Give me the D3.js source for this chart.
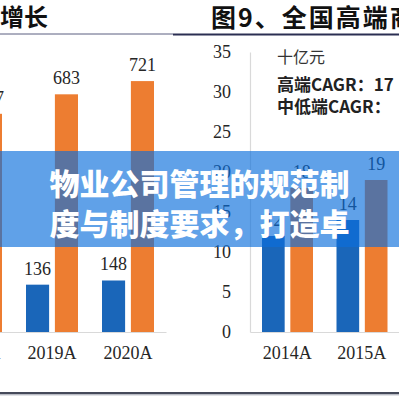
<!DOCTYPE html>
<html>
<head>
<meta charset="utf-8">
<script src="https://cdn.jsdelivr.net/npm/d3@7/dist/d3.min.js"></script>
<style>
  html, body { margin: 0; padding: 0; background: #fff; }
  svg { display: block; }
</style>
</head>
<body>
<svg id="chart" width="399" height="399"></svg>
<script>
// ---- data ----
const leftCategories = ["2018A", "2019A", "2020A"];
const leftBlue = [121, 136, 148];
const leftOrange = [627, 683, 721];

const rightCategories = ["2014A", "2015A"];
const rightBlue = [12, 14];
const rightOrange = [18, 19];
const rightTicks = [0, 5, 10, 15, 20, 25, 30, 35];

const leftTitle = "增长";
const rightTitle = "图9、全国高端商";
const rightUnit = "十亿元";
const rightNote1 = "高端CAGR：17";
const rightNote2 = "中低端CAGR：";
const bannerLines = ["物业公司管理的规范制", "度与制度要求，打造卓"];
const seriesKeys = ["blue", "orange"];

// ---- drawing ----
const svg = d3.select("#chart");
const COLORS = { blue: "#1a66b9", orange: "#ed7d31" };
const serif = "'Liberation Serif', 'Times New Roman', serif";
const cjk = "'Noto Sans CJK SC', sans-serif";

svg.append("rect").attr("width", 399).attr("height", 399).attr("fill", "#fff");

function drawPanel(cfg) {
  const g = svg.append("g");
  const x0 = d3.scaleBand().domain(cfg.categories).range(cfg.xRange);
  const x1 = d3.scaleBand().domain(seriesKeys).range(cfg.innerRange).paddingInner(0.2);
  const y = d3.scaleLinear().domain(cfg.yDomain).range(cfg.yRange);

  const rows = cfg.categories.map((c, i) => ({ cat: c, blue: cfg.blue[i], orange: cfg.orange[i] }));

  // baseline / x axis
  const xAxis = d3.axisBottom(x0).tickSize(0).tickPadding(14).tickSizeOuter(0);
  const xa = g.append("g").attr("transform", `translate(0,${y(0)})`).call(xAxis);
  xa.select(".domain").attr("stroke", "#d9d9d9").attr("stroke-width", 1.2);
  xa.selectAll("text").attr("font-family", serif).attr("font-size", 18).attr("fill", "#262626");

  if (cfg.showY) {
    const yAxis = d3.axisLeft(y).tickValues(rightTicks).tickSize(0).tickPadding(19).tickSizeOuter(0);
    const ya = g.append("g").attr("transform", `translate(${cfg.xRange[0]},0)`).call(yAxis);
    ya.select(".domain").attr("stroke", "#d9d9d9").attr("stroke-width", 1.2);
    ya.selectAll("text").attr("font-family", serif).attr("font-size", 18).attr("fill", "#262626");
  }

  const groups = g.selectAll("g.cat").data(rows).join("g")
    .attr("class", "cat")
    .attr("transform", d => `translate(${x0(d.cat)},0)`);

  groups.selectAll("rect").data(d => seriesKeys.map(k => ({ key: k, value: d[k] }))).join("rect")
    .attr("x", d => x1(d.key))
    .attr("width", x1.bandwidth())
    .attr("y", d => y(d.value))
    .attr("height", d => y(0) - y(d.value))
    .attr("fill", d => COLORS[d.key]);

  groups.selectAll("text.val").data(d => seriesKeys.map(k => ({ key: k, value: d[k] }))).join("text")
    .attr("class", "val")
    .attr("x", d => x1(d.key) + x1.bandwidth() / 2)
    .attr("y", d => y(d.value) - 10)
    .attr("text-anchor", "middle")
    .attr("font-family", serif)
    .attr("font-size", 18)
    .attr("fill", "#262626")
    .text(d => d.value);
}

drawPanel({
  categories: leftCategories, blue: leftBlue, orange: leftOrange,
  xRange: [-62, 166], innerRange: [12, 64],
  yDomain: [0, 800], yRange: [332, 53.6], showY: false
});

drawPanel({
  categories: rightCategories, blue: rightBlue, orange: rightOrange,
  xRange: [250, 399], innerRange: [12, 63],
  yDomain: [0, 35], yRange: [332, 52], showY: true
});

// titles and rules
svg.append("text").attr("x", 0).attr("y", 26)
  .attr("font-family", cjk).attr("font-weight", 700).attr("font-size", 24)
  .attr("fill", "#111").text(leftTitle);
svg.append("text").attr("x", 211).attr("y", 27)
  .attr("font-family", cjk).attr("font-weight", 700).attr("font-size", 25)
  .attr("letter-spacing", 2)
  .attr("fill", "#111").text(rightTitle);
svg.append("line").attr("x1", 0).attr("x2", 173).attr("y1", 34).attr("y2", 34)
  .attr("stroke", "#5a5f80").attr("stroke-width", 1);
svg.append("line").attr("x1", 173).attr("x2", 399).attr("y1", 34.5).attr("y2", 34.5)
  .attr("stroke", "#2b2f52").attr("stroke-width", 2);

svg.append("line").attr("x1", 0).attr("x2", 399).attr("y1", 393).attr("y2", 393)
  .attr("stroke", "#454a5a").attr("stroke-width", 2);
svg.append("line").attr("x1", 0).attr("x2", 399).attr("y1", 394.8).attr("y2", 394.8)
  .attr("stroke", "#9a9eac").attr("stroke-width", 1);

// notes in right panel
svg.append("text").attr("x", 277).attr("y", 63)
  .attr("font-family", cjk).attr("font-size", 16).attr("fill", "#333").text(rightUnit);
svg.append("text").attr("x", 277).attr("y", 91)
  .attr("font-family", "'Noto Sans CJK SC', 'Liberation Serif', serif").attr("font-weight", 700)
  .attr("font-size", 17).attr("fill", "#222").text(rightNote1);
svg.append("text").attr("x", 277).attr("y", 113)
  .attr("font-family", "'Noto Sans CJK SC', 'Liberation Serif', serif").attr("font-weight", 700)
  .attr("font-size", 17).attr("fill", "#222").text(rightNote2);

// banner overlay
svg.append("rect").attr("x", 0).attr("y", 151).attr("width", 399).attr("height", 96)
  .attr("fill", "rgb(10,110,220)").attr("fill-opacity", 0.65);
svg.selectAll("text.banner").data(bannerLines).join("text")
  .attr("class", "banner")
  .attr("x", 199.5)
  .attr("y", (d, i) => 182 + i * 40)
  .attr("text-anchor", "middle")
  .attr("dominant-baseline", "central")
  .attr("font-family", cjk).attr("font-weight", 900).attr("font-size", 30)
  .attr("fill", "#fff")
  .text(d => d);
</script>
</body>
</html>
